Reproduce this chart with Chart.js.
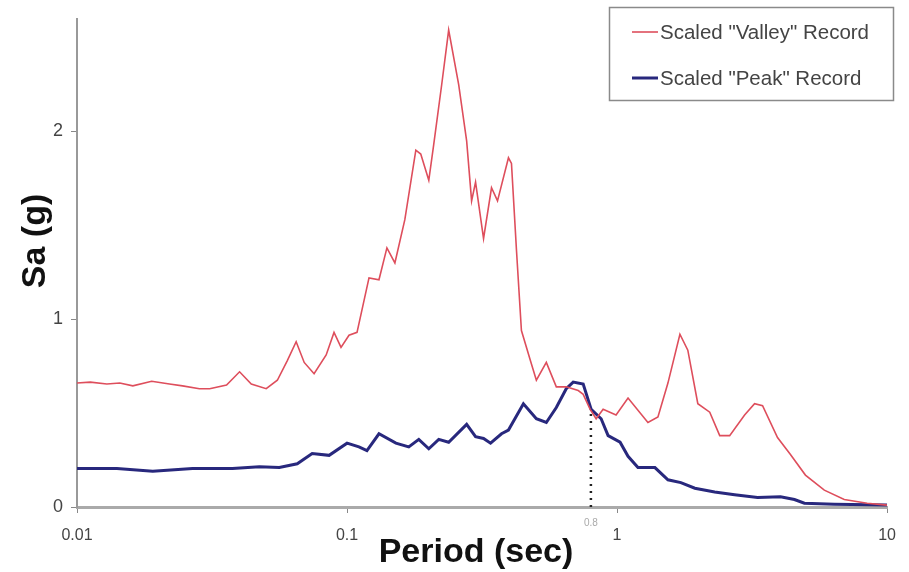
<!DOCTYPE html>
<html>
<head>
<meta charset="utf-8">
<script src="https://cdn.jsdelivr.net/npm/chart.js@4.4.1/dist/chart.umd.min.js"></script>
<style>
  body { margin: 0; background: #fff; }
  canvas { display: block; }
</style>
</head>
<body>
<canvas id="grafica" width="909" height="572"></canvas>
<script>
// Valores
const valleyPeriod = [0.01, 0.0112, 0.0129, 0.0144, 0.0161, 0.0189, 0.022, 0.0246, 0.0284, 0.031, 0.0358, 0.04, 0.0442, 0.0502, 0.0552, 0.0601, 0.0648, 0.0694, 0.0755, 0.0837, 0.0895, 0.095, 0.1017, 0.1089, 0.1206, 0.1313, 0.1405, 0.1504, 0.1637, 0.1798, 0.1875, 0.2008, 0.2094, 0.2242, 0.2379, 0.2591, 0.2773, 0.2893, 0.2992, 0.3203, 0.3428, 0.3608, 0.3961, 0.4064, 0.424, 0.4424, 0.4775, 0.5025, 0.547, 0.5957, 0.6483, 0.7181, 0.7491, 0.7951, 0.8366, 0.8878, 0.9915, 1.098, 1.301, 1.417, 1.543, 1.709, 1.828, 1.991, 2.204, 2.4, 2.612, 2.967, 3.23, 3.458, 3.928, 4.386, 4.983, 5.854, 6.939, 8.437, 10];
const valleySa = [0.66, 0.665, 0.655, 0.66, 0.645, 0.67, 0.655, 0.645, 0.63, 0.63, 0.65, 0.72, 0.655, 0.63, 0.675, 0.78, 0.88, 0.77, 0.71, 0.81, 0.93, 0.85, 0.915, 0.93, 1.22, 1.21, 1.38, 1.30, 1.53, 1.90, 1.88, 1.74, 1.93, 2.25, 2.54, 2.25, 1.95, 1.63, 1.73, 1.43, 1.70, 1.63, 1.86, 1.83, 1.37, 0.94, 0.78, 0.675, 0.77, 0.64, 0.64, 0.62, 0.60, 0.52, 0.47, 0.52, 0.49, 0.58, 0.45, 0.48, 0.66, 0.92, 0.835, 0.55, 0.505, 0.38, 0.38, 0.49, 0.55, 0.54, 0.37, 0.28, 0.17, 0.09, 0.04, 0.02, 0.01];

const peakPeriod = [0.01, 0.01405, 0.01908, 0.02679, 0.03764, 0.04735, 0.05612, 0.0654, 0.07428, 0.08584, 0.1, 0.1107, 0.1185, 0.1313, 0.1517, 0.1693, 0.1844, 0.2008, 0.2186, 0.2379, 0.2773, 0.2992, 0.3203, 0.34, 0.3733, 0.3961, 0.4499, 0.5025, 0.547, 0.5957, 0.6483, 0.688, 0.7491, 0.8019, 0.873, 0.9265, 1.026, 1.098, 1.195, 1.381, 1.543, 1.723, 1.941, 2.299, 2.725, 3.314, 4.029, 4.538, 4.94, 6.375, 10];
const peakSa = [0.205, 0.205, 0.19, 0.205, 0.205, 0.215, 0.21, 0.23, 0.285, 0.275, 0.34, 0.32, 0.30, 0.39, 0.34, 0.32, 0.36, 0.31, 0.36, 0.345, 0.44, 0.375, 0.365, 0.34, 0.39, 0.41, 0.55, 0.47, 0.45, 0.53, 0.63, 0.665, 0.655, 0.52, 0.47, 0.38, 0.345, 0.27, 0.21, 0.21, 0.145, 0.13, 0.10, 0.08, 0.065, 0.05, 0.055, 0.04, 0.02, 0.015, 0.01];

const markerPeriod = [0.8, 0.8];
const markerSa = [0, 0.5];
const markerLabel = "0.8";

const xTicks = [0.01, 0.1, 1, 10];
const yTicks = [0, 1, 2];

const labels = ['Scaled "Valley" Record', 'Scaled "Peak" Record'];

const FUENTE = '"Liberation Sans", Arial, sans-serif';
const ROJO = "rgb(222, 78, 92)";
const AZUL = "rgb(40, 40, 125)";

function aPuntos(xs, ys) {
    return xs.map((x, i) => ({ x: x, y: ys[i] }));
}

// Titulos, leyenda con recuadro y etiqueta 0.8
const extras = {
    id: "extras",
    afterDraw(chart) {
        const ctx = chart.ctx;
        const xs = chart.scales.x;
        ctx.save();

        ctx.fillStyle = "#111";
        ctx.font = "bold 34px " + FUENTE;
        ctx.textAlign = "center";
        ctx.textBaseline = "alphabetic";
        ctx.fillText("Period (sec)", 476, 562);

        ctx.save();
        ctx.translate(45, 241);
        ctx.rotate(-Math.PI / 2);
        ctx.fillText("Sa (g)", 0, 0);
        ctx.restore();

        // etiqueta pequeña del periodo marcado
        ctx.font = "10px " + FUENTE;
        ctx.fillStyle = "#aaa";
        ctx.textBaseline = "middle";
        ctx.fillText(markerLabel, xs.getPixelForValue(markerPeriod[0]), 523);

        // leyenda
        ctx.strokeStyle = "#8a8a8a";
        ctx.lineWidth = 1.5;
        ctx.strokeRect(609.5, 7.5, 284, 93);
        const filas = [32, 78];
        chart.data.datasets.slice(0, 2).forEach((ds, i) => {
            ctx.strokeStyle = ds.borderColor;
            ctx.lineWidth = ds.borderWidth;
            ctx.beginPath();
            ctx.moveTo(632, filas[i]);
            ctx.lineTo(658, filas[i]);
            ctx.stroke();
            ctx.fillStyle = "#444";
            ctx.font = "20.5px " + FUENTE;
            ctx.textAlign = "left";
            ctx.textBaseline = "middle";
            ctx.fillText(ds.label, 660, filas[i] + 1);
        });
        ctx.restore();
    }
};

const ctx = document.getElementById("grafica").getContext("2d");
new Chart(ctx, {
    type: "line",
    data: {
        datasets: [
            {
                label: labels[0],
                data: aPuntos(valleyPeriod, valleySa),
                borderColor: ROJO,
                borderWidth: 1.6,
                pointRadius: 0,
                tension: 0
            },
            {
                label: labels[1],
                data: aPuntos(peakPeriod, peakSa),
                borderColor: AZUL,
                borderWidth: 3,
                pointRadius: 0,
                tension: 0
            },
            {
                label: "marker",
                data: aPuntos(markerPeriod, markerSa),
                borderColor: "#222",
                borderWidth: 2.5,
                borderDash: [2, 5],
                pointRadius: 0
            }
        ]
    },
    options: {
        responsive: false,
        animation: false,
        layout: { padding: { top: 18, right: 20, left: 0, bottom: 0 } },
        plugins: { legend: { display: false }, tooltip: { enabled: false } },
        scales: {
            x: {
                type: "logarithmic",
                min: 0.01,
                max: 10,
                afterBuildTicks: s => { s.ticks = xTicks.map(v => ({ value: v })); },
                afterFit: s => { s.height = 65; },
                ticks: {
                    autoSkip: false,
                    maxRotation: 0,
                    padding: 13,
                    color: "#444",
                    font: { size: 16, family: FUENTE },
                    callback: v => String(v)
                },
                grid: { drawOnChartArea: false, tickLength: 6, color: "#888" },
                border: { color: "#aaa", width: 3 }
            },
            y: {
                min: 0,
                max: 2.6,
                afterBuildTicks: s => { s.ticks = yTicks.map(v => ({ value: v })); },
                afterFit: s => { s.width = 77; },
                ticks: {
                    padding: 8,
                    color: "#444",
                    font: { size: 18, family: FUENTE }
                },
                grid: { drawOnChartArea: false, tickLength: 6, color: "#888" },
                border: { color: "#999", width: 2 }
            }
        }
    },
    plugins: [extras]
});
</script>
</body>
</html>
